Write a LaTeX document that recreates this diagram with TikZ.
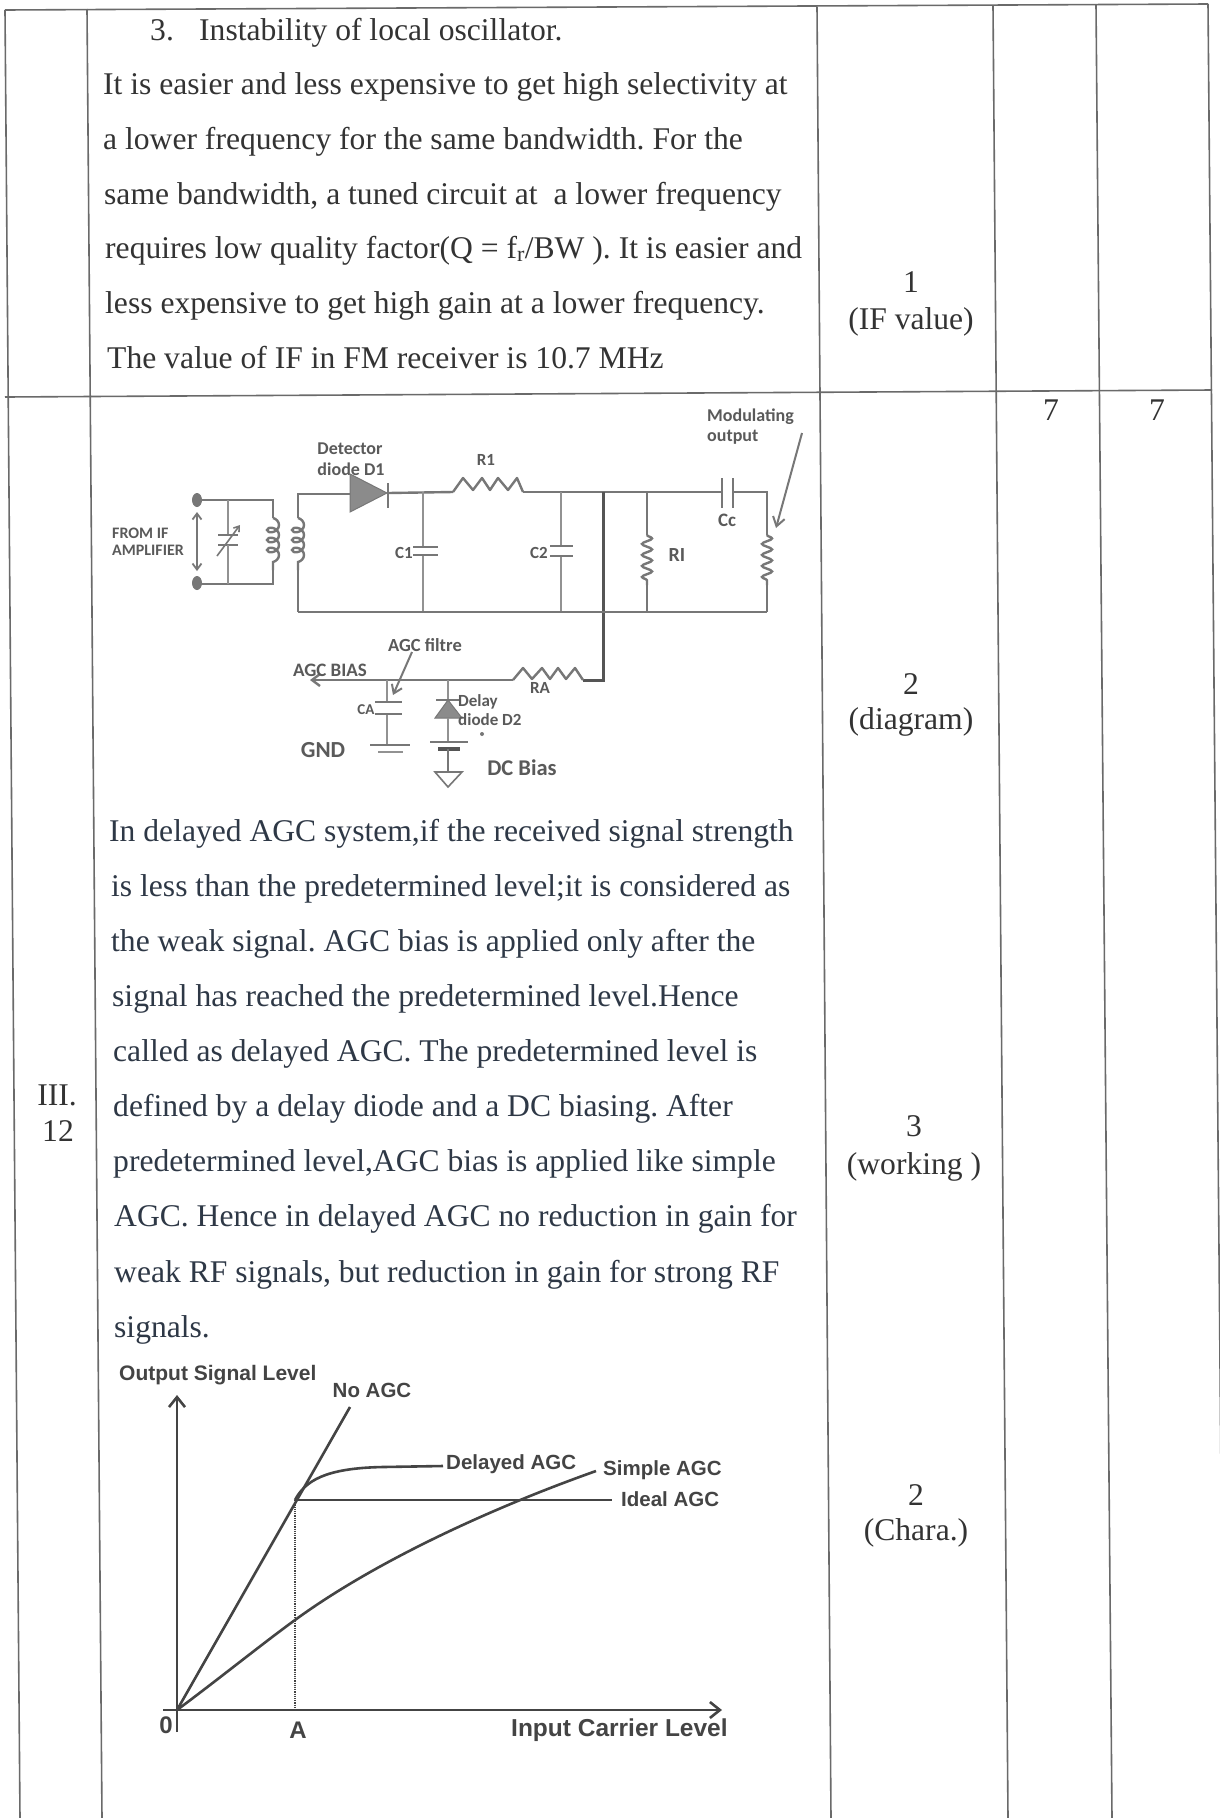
\documentclass[tikz,border=0pt]{standalone}
\usepackage{fontspec}
\setmainfont{Liberation Serif}
\newfontfamily\cirfont{Carlito}
\newfontfamily\grfont{Liberation Sans}
\usetikzlibrary{decorations.pathmorphing,arrows.meta}
\definecolor{txta}{HTML}{333333}
\definecolor{txtb}{HTML}{2E3846}
\definecolor{tabc}{HTML}{6A6A6A}
\definecolor{wirec}{HTML}{777777}
\definecolor{wired}{HTML}{555555}
\definecolor{clab}{HTML}{5A5A5A}
\definecolor{grc}{HTML}{444444}
\begin{document}
\frenchspacing
\begin{tikzpicture}[x=1pt,y=-1pt,
  body/.style={anchor=base west,inner sep=0,font=\fontsize{31.6}{31.6}\selectfont,text=txta},
  bodyb/.style={body,text=txtb},
  markcell/.style={anchor=base,inner sep=0,font=\fontsize{31.6}{31.6}\selectfont,text=txta},
  clabel/.style={inner sep=0,text=clab,font=\cirfont\bfseries\fontsize{#1}{#1}\selectfont},
  glabel/.style={inner sep=0,text=grc,font=\grfont\bfseries\fontsize{#1}{#1}\selectfont},
  tline/.style={draw=tabc,line width=1.6},
  wire/.style={draw=wirec,line width=2.4},
  thin/.style={draw=wirec!80,line width=1.6},
  gline/.style={draw=grc,line width=2.6},
  coilv/.style={wire,decorate,decoration={coil,aspect=0.75,segment length=10,amplitude=6}}]
\useasboundingbox (0,0) rectangle (1220,1818);
\fill[white] (0,0) rectangle (1220,1818);
\begin{scope}
\clip (0,0) rectangle (1220,1818);
% ---------- table ----------
\coordinate (tl) at (5,10);   \coordinate (bl) at (20,1818);
\coordinate (c1t) at (87,9);  \coordinate (c1b) at (102,1818);
\coordinate (c2t) at (817,7); \coordinate (c2b) at (831,1818);
\coordinate (c3t) at (993,6); \coordinate (c3b) at (1008,1818);
\coordinate (c4t) at (1096,5);\coordinate (c4b) at (1112,1818);
\coordinate (tr) at (1208,4); \coordinate (br) at (1224,1818);
\coordinate (rl) at (5,397);  \coordinate (rr) at (1212,390);
\draw[tline] (tl) -- (tr);
\draw[tline] (rl) -- (rr);
\draw[tline] (tl) -- (bl);
\draw[tline] (c1t) -- (c1b);
\draw[tline] (c2t) -- (c2b);
\draw[tline] (c3t) -- (c3b);
\draw[tline] (c4t) -- (c4b);
\draw[tline] (tr) -- (br);
\end{scope}
% ---------- first cell text ----------
\node[body] (n3) at (150,40) {3.};
\node[body] (p1) at (199,40) {Instability of local oscillator.};
\node[body] (p2) at (103,94) {It is easier and less expensive to get high selectivity at};
\node[body] (p3) at (103,149) {a lower frequency for the same bandwidth. For the};
\node[body] (p4) at (104,204) {same bandwidth, a tuned circuit at\ \ a lower frequency};
\node[body] (p5) at (105,258) {requires low quality factor(Q = f\textsubscript{r}/BW ). It is easier and};
\node[body] (p6) at (105,313) {less expensive to get high gain at a lower frequency.};
\node[body] (p7) at (107,368) {The value of IF in FM receiver is 10.7 MHz};
% marks
\node[markcell] (m1) at (911,292) {1};
\node[markcell] (m1t) at (911,329) {(IF value)};
\node[markcell] (s1) at (1051,420) {7};
\node[markcell] (s2) at (1157,420) {7};
\node[markcell] (m2) at (911,694) {2};
\node[markcell] (m2t) at (911,729) {(diagram)};
\node[markcell] (m3) at (914,1136) {3};
\node[markcell] (m3t) at (914,1174) {(working )};
\node[markcell] (m4) at (916,1505) {2};
\node[markcell] (m4t) at (916,1540) {(Chara.)};
\node[markcell] (q1) at (57,1105) {III.};
\node[markcell] (q2) at (58,1141) {12};
% ---------- second paragraph ----------
\node[bodyb] (b1) at (109,841) {In delayed AGC system,if the received signal strength};
\node[bodyb] (b2) at (111,896) {is less than the predetermined level;it is considered as};
\node[bodyb] (b3) at (111,951) {the weak signal. AGC bias is applied only after the};
\node[bodyb] (b4) at (112,1006) {signal has reached the predetermined level.Hence};
\node[bodyb] (b5) at (113,1061) {called as delayed AGC. The predetermined level is};
\node[bodyb] (b6) at (113,1116) {defined by a delay diode and a DC biasing. After};
\node[bodyb] (b7) at (113,1171) {predetermined level,AGC bias is applied like simple};
\node[bodyb] (b8) at (114,1226) {AGC. Hence in delayed AGC no reduction in gain for};
\node[bodyb] (b9) at (114,1282) {weak RF signals, but reduction in gain for strong RF};
\node[bodyb] (b10) at (114,1337) {signals.};
% ---------- circuit ----------
\fill[wirec] (197,500) ellipse (5 and 7);
\fill[wirec] (197,583) ellipse (5 and 7);
\draw[wire,line width=1.8,{Straight Barb[length=6,width=9]}-{Straight Barb[length=6,width=9]}] (197,512) -- (197,571);
\draw[wire] (197,500) -- (273,500) -- (273,518);
\draw[wire] (197,584) -- (273,584) -- (273,570);
% variable capacitor
\draw[thin] (228,500) -- (228,535);
\draw[wire] (218,535) -- (238,535) (218,545) -- (238,545);
\draw[thin] (228,545) -- (228,584);
\draw[wire,line width=1.6,-{Straight Barb[length=5,width=7]}] (217,556) -- (240,525);
% coils
\draw[coilv] (273,518) -- (273,570);
\draw[coilv] (298,518) -- (298,570);
\draw[wire] (298,518) -- (298,494) -- (350,494);
\draw[wire] (298,570) -- (298,612);
% detector diode
\filldraw[draw=wirec,fill=wirec!85,line width=1] (350,474) -- (350,512) -- (387,493) -- cycle;
\draw[wire] (388,483) -- (388,508);
\draw[wire] (388,493) -- (453,492);
% R1
\draw[wire,line join=round] (453,492) -- (463,478) -- (473,490) -- (482,478) -- (490,490) -- (498,478) -- (508,490) -- (517,478) -- (523,492);
\draw[wire] (523,492) -- (722,492);
\draw[wire] (733,492) -- (767,492) -- (767,535);
% Cc
\draw[wire] (722,478) -- (722,508) (733,478) -- (733,508);
% C1, C2
\draw[thin] (423,492) -- (423,547) (423,555) -- (423,612);
\draw[wire] (413,547) -- (438,547) (413,555) -- (438,555);
\draw[thin] (561,492) -- (561,546) (561,556) -- (561,612);
\draw[wire] (550,546) -- (573,546) (550,556) -- (573,556);
% thick vertical and RA
\draw[draw=wired,line width=3] (603,492) -- (603,680) -- (583,680);
\draw[wire,line join=round] (583,680) -- (575,668) -- (566,679) -- (558,668) -- (550,679) -- (542,668) -- (532,679) -- (523,668) -- (513,680);
% RI
\draw[wire] (647,492) -- (647,535);
\draw[wire,decorate,decoration={snake,amplitude=5,segment length=11}] (647,535) -- (647,585);
\draw[wire] (647,585) -- (647,612);
% output pot
\draw[wire,decorate,decoration={snake,amplitude=5,segment length=11}] (767,535) -- (767,585);
\draw[wire] (767,585) -- (767,612);
% bottom rail
\draw[wire] (298,612) -- (767,612);
% modulating output arrow
\draw[wire,line width=2,-{Straight Barb[length=9,width=12]}] (802,433) -- (776,528);
% AGC bias line
\draw[wire,-{Straight Barb[length=8,width=12]}] (513,680) -- (310,680);
% CA
\draw[thin] (387,680) -- (387,702) (387,714) -- (387,745);
\draw[wire] (375,702) -- (402,702) (375,714) -- (402,714);
\draw[wire] (370,745) -- (410,745);
\draw[thin] (378,752) -- (403,752);
\draw[wire,line width=2,-{Straight Barb[length=8,width=11]}] (412,652) -- (393,695);
% D2
\draw[thin] (448,680) -- (448,700);
\draw[wire] (436,700) -- (461,700);
\filldraw[draw=wirec,fill=wirec!85,line width=1] (448,700) -- (435,718) -- (462,718) -- cycle;
\draw[thin] (448,718) -- (448,742);
\draw[wire] (430,742) -- (468,742);
\draw[draw=wired,line width=4] (438,749) -- (460,749);
\draw[wire] (448,749) -- (448,772);
\draw[wire,line width=1.6] (435,772) -- (462,772) -- (448,787) -- cycle;
\fill[wirec] (482,734) circle (2);
% circuit labels
\node[clabel=18] (lDet) at (350,449) {Detector};
\node[clabel=18] (lD1) at (351,469) {diode D1};
\node[clabel=16,anchor=west] (lFrom) at (112,533) {FROM IF};
\node[clabel=16,anchor=west] (lAmp) at (112,550) {AMPLIFIER};
\node[clabel=17] (lR1) at (486,460) {R1};
\node[clabel=17] (lC1) at (404,553) {C1};
\node[clabel=17] (lC2) at (539,553) {C2};
\node[clabel=20] (lRI) at (677,555) {RI};
\node[clabel=19] (lCc) at (727,520) {Cc};
\node[clabel=18,anchor=west] (lMod) at (707,417) {Modulating};
\node[clabel=18,anchor=west] (lOut) at (707,437) {output};
\node[clabel=17] (lRA) at (540,688) {RA};
\node[clabel=19] (lAGCb) at (330,670) {AGC BIAS};
\node[clabel=18.5] (lAGCf) at (425,645) {AGC filtre};
\node[clabel=15] (lCA) at (366,710) {CA};
\node[clabel=17,anchor=west] (lDel) at (458,702) {Delay};
\node[clabel=17,anchor=west] (lD2) at (458,720) {diode D2};
\node[clabel=23] (lGND) at (323,750) {GND};
\node[clabel=22.5] (lDC) at (522,768) {DC Bias};
% ---------- graph ----------
\coordinate (O) at (177,1710);
\coordinate (ytop) at (177,1395);
\coordinate (ybot) at (177,1732);
\coordinate (xl) at (163,1710);
\coordinate (xr) at (722,1710);
\coordinate (noagc) at (350,1407);
\coordinate (P) at (295,1500);
\coordinate (Pa) at (295,1710);
\coordinate (idealend) at (612,1500);
\coordinate (S1) at (295,1620);
\coordinate (Send) at (596,1471);
\draw[gline,-{Straight Barb[length=10,width=16]}] (ybot) -- (ytop);
\draw[gline,-{Straight Barb[length=10,width=16]}] (xl) -- (xr);
\draw[gline] (O) -- (noagc);
\draw[gline] (P) -- (idealend);
\draw[gline] (P) .. controls (305,1481) and (325,1468) .. (383,1467) -- (443,1466);
\draw[gline] (O) .. controls (220,1678) and (262,1644) .. (S1) .. controls (380,1558) and (500,1505) .. (Send);
\draw[draw=grc,line width=1.2,densely dotted] (P) -- (Pa);
\node[glabel=21,anchor=west] (gy) at (119,1375) {Output Signal Level};
\node[glabel=20.5] (gno) at (372,1390) {No AGC};
\node[glabel=20.5,anchor=west] (gdel) at (446,1464) {Delayed AGC};
\node[glabel=20.5,anchor=west] (gsim) at (603,1470) {Simple AGC};
\node[glabel=20.5,anchor=west] (gid) at (621,1499) {Ideal AGC};
\node[glabel=24] (g0) at (166,1725) {0};
\node[glabel=24] (gA) at (298,1730) {A};
\node[glabel=24.5,anchor=west] (gx) at (511,1730) {Input Carrier Level};
\end{tikzpicture}
\end{document}
